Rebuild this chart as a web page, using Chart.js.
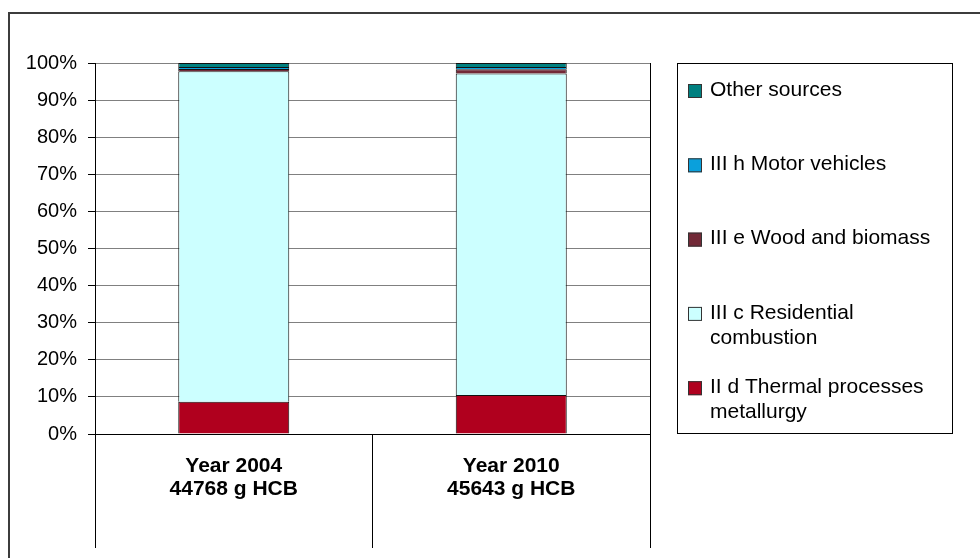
<!DOCTYPE html>
<html>
<head>
<meta charset="utf-8">
<title>HCB emissions by source</title>
<script src="https://cdn.jsdelivr.net/npm/chart.js@4.4.1/dist/chart.umd.min.js"></script>
<style>
  body { margin: 0; background: #fff; }
  canvas { display: block; }
</style>
</head>
<body>
<canvas id="hcbChart" width="980" height="558"></canvas>
<script>
// Categories (two-line labels under the bars)
const years = [
  ['Year 2004', '44768 g HCB'],
  ['Year 2010', '45643 g HCB']
];

// Series names, bottom of the stack first
const seriesNames = [
  'II d Thermal processes metallurgy',
  'III c Residential combustion',
  'III e Wood and biomass',
  'III h Motor vehicles',
  'Other sources'
];

// Share of total (%)
const thermalMetallurgy = [8.7, 10.5];
const residentialCombustion = [89.1, 86.7];
const woodBiomass = [0.6, 1.1];
const motorVehicles = [0.5, 0.6];
const otherSources = [1.1, 1.1];

const seriesColors = ['#B0001E', '#CCFFFF', '#722937', '#0AA0DC', '#008080'];

// Y axis ticks
const yTicks = [0, 10, 20, 30, 40, 50, 60, 70, 80, 90, 100];

const FONT = "'Liberation Sans', Arial, sans-serif";

const seriesValues = [thermalMetallurgy, residentialCombustion, woodBiomass, motorVehicles, otherSources];

const datasets = seriesNames.map((name, i) => ({
  label: name,
  data: seriesValues[i],
  backgroundColor: seriesColors[i],
  borderColor: '#111',
  borderWidth: 1,
  categoryPercentage: 1.0,
  barPercentage: 0.4
}));

// split a label into lines that fit maxWidth
function wrapText(ctx, text, maxWidth) {
  const words = text.split(' ');
  const lines = [];
  let line = '';
  words.forEach(word => {
    const test = line ? line + ' ' + word : word;
    if (ctx.measureText(test).width > maxWidth && line) {
      lines.push(line);
      line = word;
    } else {
      line = test;
    }
  });
  if (line) lines.push(line);
  return lines;
}

// outer frame, right edge of plot and the boxed legend
const framePlugin = {
  id: 'framePlugin',
  afterDraw(chart) {
    const ctx = chart.ctx;
    const area = chart.chartArea;
    ctx.save();

    // outer frame
    ctx.strokeStyle = '#3c3c3c';
    ctx.lineWidth = 2;
    ctx.beginPath();
    ctx.moveTo(9, 600);
    ctx.lineTo(9, 13);
    ctx.lineTo(1000, 13);
    ctx.stroke();

    // right edge of plot area
    ctx.strokeStyle = '#000';
    ctx.lineWidth = 1;
    ctx.beginPath();
    ctx.moveTo(Math.round(area.right) + 0.5, area.top);
    ctx.lineTo(Math.round(area.right) + 0.5, area.bottom);
    ctx.stroke();

    // legend box
    const boxX = 677, boxY = 63, boxW = 275, boxH = 370;
    ctx.strokeStyle = '#000';
    ctx.strokeRect(boxX + 0.5, boxY + 0.5, boxW, boxH);

    ctx.font = '21px ' + FONT;
    ctx.textBaseline = 'middle';
    ctx.textAlign = 'left';
    const step = 74.3;
    const lineH = 25;
    const order = chart.data.datasets.slice().reverse();
    order.forEach((ds, i) => {
      const y = 90 + i * step;
      ctx.fillStyle = ds.backgroundColor;
      ctx.fillRect(688, y - 6, 14, 14);
      ctx.strokeStyle = '#333';
      ctx.strokeRect(688.5, y - 5.5, 13, 13);
      ctx.fillStyle = '#000';
      const lines = wrapText(ctx, ds.label, 236);
      lines.forEach((ln, j) => {
        ctx.fillText(ln, 710, y + j * lineH);
      });
    });

    ctx.restore();
  }
};

const ctx = document.getElementById('hcbChart').getContext('2d');

new Chart(ctx, {
  type: 'bar',
  data: {
    labels: years,
    datasets: datasets
  },
  options: {
    responsive: false,
    animation: false,
    devicePixelRatio: 1,
    layout: {
      padding: { top: 63, right: 330, left: 0, bottom: 0 }
    },
    plugins: {
      legend: { display: false },
      tooltip: { enabled: false }
    },
    scales: {
      x: {
        stacked: true,
        offset: true,
        grid: {
          display: true,
          offset: true,
          drawOnChartArea: false,
          drawTicks: true,
          tickLength: 114,
          color: '#000',
          lineWidth: 1
        },
        border: { color: '#000', width: 1 },
        ticks: {
          color: '#000',
          padding: -93,
          font: { family: FONT, size: 21, weight: 'bold', lineHeight: 1.1 }
        },
        afterFit(scale) {
          scale.height = 124;
        }
      },
      y: {
        stacked: true,
        min: 0,
        max: 100,
        afterBuildTicks(scale) {
          scale.ticks = yTicks.map(v => ({ value: v }));
        },
        grid: {
          color: '#808080',
          lineWidth: 1,
          tickLength: 7,
          tickColor: '#000'
        },
        border: { color: '#000', width: 1 },
        ticks: {
          color: '#000',
          padding: 11,
          font: { family: FONT, size: 20 },
          callback: v => v + '%'
        },
        afterFit(scale) {
          scale.width = 95;
        }
      }
    }
  },
  plugins: [framePlugin]
});
</script>
</body>
</html>
